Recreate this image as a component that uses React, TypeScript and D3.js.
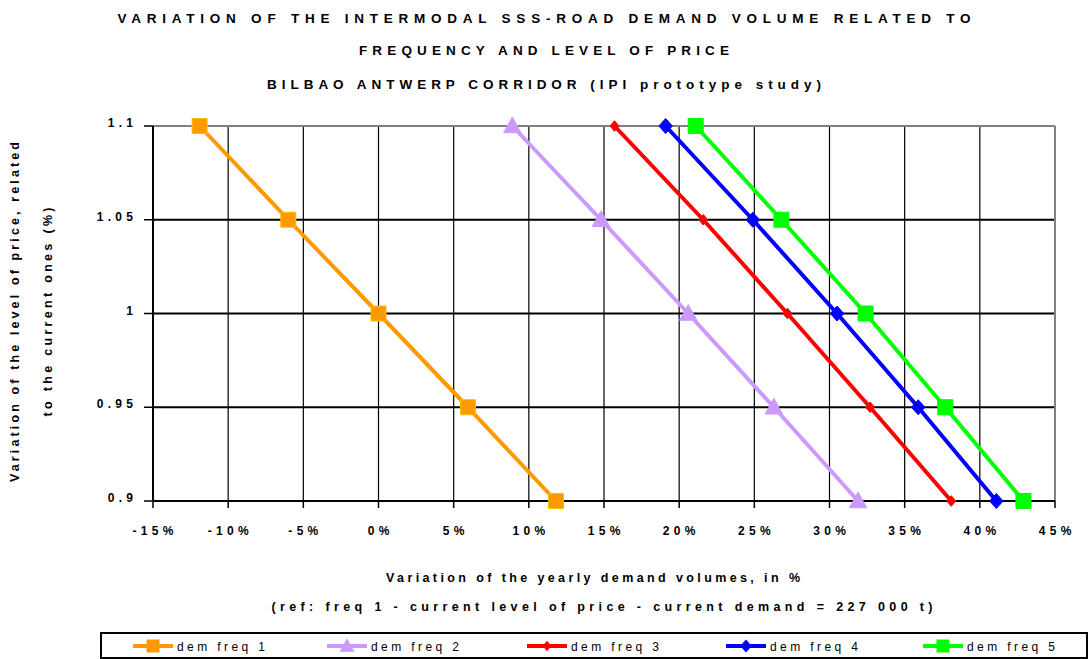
import React from "react";
import * as d3 from "d3";

const priceLevels = [1.1, 1.05, 1.0, 0.95, 0.9];
const seriesNames = ["dem freq 1", "dem freq 2", "dem freq 3", "dem freq 4", "dem freq 5"];
const freq1 = [-11.9, -6.0, 0.0, 5.95, 11.8];
const freq2 = [8.9, 14.8, 20.6, 26.3, 31.9];
const freq3 = [15.7, 21.6, 27.2, 32.7, 38.1];
const freq4 = [19.1, 24.9, 30.5, 35.9, 41.1];
const freq5 = [21.1, 26.8, 32.4, 37.7, 42.9];
const xTicks = [-15, -10, -5, 0, 5, 10, 15, 20, 25, 30, 35, 40, 45];
const yTicks = [0.9, 0.95, 1.0, 1.05, 1.1];
const yTickLabels = ["0.9", "0.95", "1", "1.05", "1.1"];
const titleLines = [
  "VARIATION OF THE INTERMODAL SSS-ROAD DEMAND VOLUME RELATED TO",
  "FREQUENCY AND LEVEL OF PRICE",
  "BILBAO ANTWERP CORRIDOR (IPI prototype study)",
];
const xTitleLines = [
  "Variation of the yearly demand volumes, in %",
  "(ref: freq 1 - current level of price - current demand = 227 000 t)",
];
const yTitleLines = ["Variation of the level of price, related", "to the current ones (%)"];

const allSeries = [freq1, freq2, freq3, freq4, freq5];
const colors = ["#FF9900", "#CC99FF", "#FF0000", "#0000FF", "#00FF00"];
const shapes = ["square", "triangle", "smallDiamond", "diamond", "square"];

const W = 1089;
const H = 659;
const FONT = "'Liberation Sans', Arial, sans-serif";

function markerPath(shape: string, s: number) {
  switch (shape) {
    case "square":
      return `M${-s / 2},${-s / 2}h${s}v${s}h${-s}Z`;
    case "triangle":
      return `M0,${-s * 0.6}L${s * 0.58},${s * 0.45}L${-s * 0.58},${s * 0.45}Z`;
    case "smallDiamond":
      return `M0,${-s * 0.38}L${s * 0.32},0L0,${s * 0.38}L${-s * 0.32},0Z`;
    case "diamond":
    default:
      return `M0,${-s / 2}L${s * 0.45},0L0,${s / 2}L${-s * 0.45},0Z`;
  }
}

export default function App() {
  const x = d3.scaleLinear().domain([-15, 45]).range([153, 1055]);
  const y = d3.scaleLinear().domain([0.9, 1.1]).range([501, 126]);
  const [x0, x1] = x.range();
  const [y0, y1] = y.range();

  const line = d3
    .line<number>()
    .x((d) => x(d))
    .y((_, i) => y(priceLevels[i]));

  const legendX = [133, 327, 527, 726, 923];
  const tickLS = 4.3;

  return (
    <svg
      width={W}
      height={H}
      style={{ position: "absolute", left: 0, top: 0, background: "#fff" }}
      fontFamily={FONT}
    >
      <rect x={0} y={0} width={W} height={H} fill="#fff" />
      {/* Title */}
      {titleLines.map((t, i) => {
        const widths = [853, 370, 554];
        const ys = [23, 55, 89];
        return (
          <text
            key={i}
            x={544}
            y={ys[i]}
            textAnchor="middle"
            fontSize={13.5}
            fontWeight="bold"
            textLength={widths[i]}
            lengthAdjust="spacing"
          >
            {t}
          </text>
        );
      })}

      {/* Grid: vertical */}
      {xTicks.slice(1, -1).map((t) => (
        <line key={"gx" + t} x1={x(t)} x2={x(t)} y1={y1} y2={y0} stroke="#000" strokeWidth={1.2} />
      ))}
      {/* Grid: horizontal */}
      {yTicks.slice(1, -1).map((t) => (
        <line key={"gy" + t} x1={x0} x2={x1} y1={y(t)} y2={y(t)} stroke="#000" strokeWidth={1.8} />
      ))}
      {/* Frame top & right (gray) */}
      <line x1={x0} x2={x1} y1={y1} y2={y1} stroke="#808080" strokeWidth={2} />
      <line x1={x1} x2={x1} y1={y1} y2={y0} stroke="#808080" strokeWidth={2} />
      {/* Axes */}
      <line x1={x0} x2={x0} y1={y1} y2={y0} stroke="#000" strokeWidth={2} />
      <line x1={x0} x2={x1} y1={y0} y2={y0} stroke="#000" strokeWidth={2} />
      {/* Y ticks */}
      {yTicks.map((t, i) => (
        <g key={"yt" + t}>
          <line x1={x0 - 9} x2={x0} y1={y(t)} y2={y(t)} stroke="#000" strokeWidth={1.5} />
          <text
            x={133 + tickLS}
            y={y(t) + 1}
            textAnchor="end"
            fontSize={12}
            fontWeight="bold"
            letterSpacing={tickLS}
          >
            {yTickLabels[i]}
          </text>
        </g>
      ))}
      {/* X ticks */}
      {xTicks.map((t) => (
        <g key={"xt" + t}>
          <line x1={x(t)} x2={x(t)} y1={y0} y2={y0 + 7} stroke="#000" strokeWidth={1.5} />
          <text
            x={x(t) + tickLS / 2}
            y={535}
            textAnchor="middle"
            fontSize={12}
            fontWeight="bold"
            letterSpacing={tickLS}
          >
            {`${t}%`}
          </text>
        </g>
      ))}

      {/* Series */}
      {allSeries.map((s, si) => (
        <g key={"s" + si}>
          <path d={line(s) || ""} fill="none" stroke={colors[si]} strokeWidth={4} />
          {s.map((v, i) => (
            <path
              key={i}
              transform={`translate(${x(v)},${y(priceLevels[i])})`}
              d={markerPath(shapes[si], shapes[si] === "smallDiamond" ? 14 : 15)}
              fill={colors[si]}
              stroke={shapes[si] === "square" ? d3.color(colors[si])!.brighter(0.6).toString() : colors[si]}
              strokeWidth={1}
            />
          ))}
        </g>
      ))}

      {/* X title */}
      <text x={593} y={582} textAnchor="middle" fontSize={12.5} fontWeight="bold" textLength={414} lengthAdjust="spacing">
        {xTitleLines[0]}
      </text>
      <text x={602} y={611} textAnchor="middle" fontSize={12.5} fontWeight="bold" textLength={661} lengthAdjust="spacing">
        {xTitleLines[1]}
      </text>

      {/* Y title */}
      <text
        transform={`translate(19,312) rotate(-90)`}
        textAnchor="middle"
        fontSize={12.5}
        fontWeight="bold"
        textLength={340}
        lengthAdjust="spacing"
      >
        {yTitleLines[0]}
      </text>
      <text
        transform={`translate(52,312) rotate(-90)`}
        textAnchor="middle"
        fontSize={12.5}
        fontWeight="bold"
        textLength={209}
        lengthAdjust="spacing"
      >
        {yTitleLines[1]}
      </text>

      {/* Legend */}
      <rect x={101} y={633} width={986} height={25} fill="#fff" stroke="#000" strokeWidth={2} />
      {seriesNames.map((n, i) => {
        const lx = legendX[i];
        const cy = 646;
        return (
          <g key={"lg" + i}>
            <line x1={lx} x2={lx + 40} y1={cy} y2={cy} stroke={colors[i]} strokeWidth={4} />
            <path
              transform={`translate(${lx + 20},${cy})`}
              d={markerPath(shapes[i], shapes[i] === "smallDiamond" ? 14 : 13)}
              fill={colors[i]}
            />
            <text x={lx + 44} y={cy + 4.5} fontSize={12} textLength={88} lengthAdjust="spacing">
              {n}
            </text>
          </g>
        );
      })}
    </svg>
  );
}
